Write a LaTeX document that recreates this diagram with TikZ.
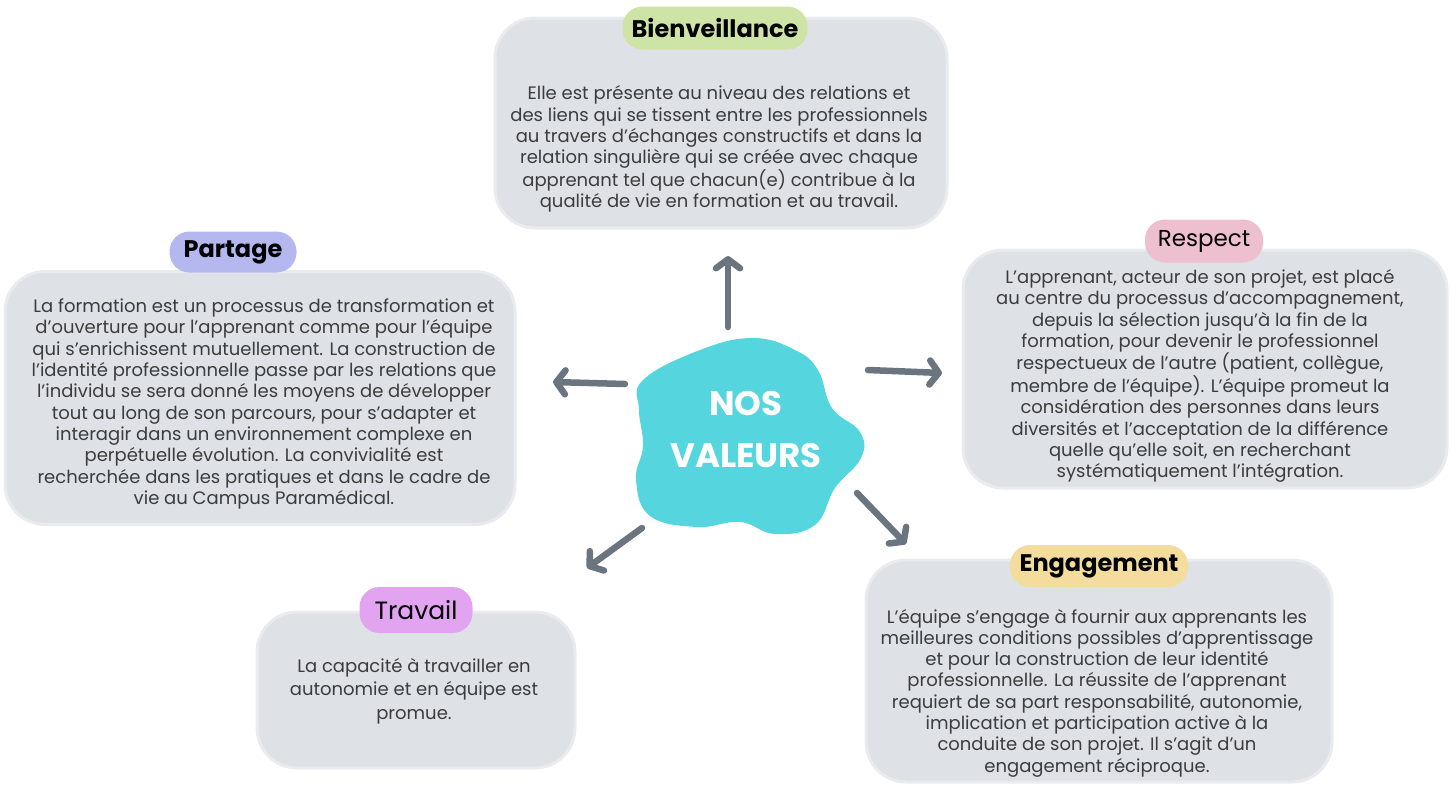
\documentclass[tikz,border=0pt]{standalone}
\usepackage{fontspec}
\setmainfont{Poppins}
\usetikzlibrary{arrows.meta}
\definecolor{boxfill}{HTML}{DEE1E6}
\definecolor{boxhalo}{HTML}{E9EBEF}
\definecolor{txt}{HTML}{3C3C3C}
\definecolor{pgreen}{HTML}{CDE4A6}
\definecolor{plav}{HTML}{B5B7EF}
\definecolor{ppink}{HTML}{EEBFCF}
\definecolor{pviolet}{HTML}{E2A4F1}
\definecolor{pyellow}{HTML}{F4DC9C}
\definecolor{blob}{HTML}{55D6DF}
\definecolor{arrowc}{HTML}{6B7580}
\tikzset{
  valbox/.style={fill=boxfill, draw=boxhalo, line width=3pt, rounded corners=40pt, inner sep=0pt},
  pill/.style={rounded corners=20pt, inner sep=0pt, font=\fontsize{24}{26}\selectfont\bfseries, text=black},
  body/.style={align=center, text=txt, inner sep=0pt, font=\fontsize{18}{21.3}\selectfont},
  arr/.style={draw=arrowc, line width=6.5pt, line cap=round, -{Straight Barb[length=9pt,width=24pt,round]}}
}
\begin{document}
\begin{tikzpicture}[x=1pt,y=-1pt]
\useasboundingbox (0,0) rectangle (1452,785);
% boxes
\node[valbox, minimum width=452pt, minimum height=210pt] (bbox) at (721,123) {};
\node[valbox, minimum width=510pt, minimum height=253pt] (pbox) at (260,398) {};
\node[valbox, minimum width=484pt, minimum height=238pt] (rbox) at (1205,369) {};
\node[valbox, minimum width=318pt, minimum height=156pt] (tbox) at (416,690) {};
\node[valbox, minimum width=466pt, minimum height=222pt] (ebox) at (1099,671) {};
% pills
\node[pill, fill=pgreen, minimum width=185pt, minimum height=43pt] (bpill) at (715,28) {Bienveillance};
\node[pill, fill=plav, minimum width=127pt, minimum height=41pt] (ppill) at (233,252) {Partage};
\node[pill, fill=ppink, minimum width=118pt, minimum height=43pt, font=\fontsize{23}{26}\selectfont] (rpill) at (1204,241) {Respect};
\node[pill, fill=pviolet, minimum width=113pt, minimum height=46pt, font=\fontsize{25}{27}\selectfont] (tpill) at (416,610) {Travail};
\node[pill, fill=pyellow, minimum width=178pt, minimum height=42pt] (epill) at (1099,566) {Engagement};
% texts
\node[body] (btxt) at (719,149) {Elle est présente au niveau des relations et\\des liens qui se tissent entre les professionnels\\au travers d’échanges constructifs et dans la\\relation singulière qui se créée avec chaque\\apprenant tel que chacun(e) contribue à la\\qualité de vie en formation et au travail.};
\node[body] (ptxt) at (264,404) {La formation est un processus de transformation et\\d’ouverture pour l’apprenant comme pour l’équipe\\qui s’enrichissent mutuellement. La construction de\\l’identité professionnelle passe par les relations que\\l’individu se sera donné les moyens de développer\\tout au long de son parcours, pour s’adapter et\\interagir dans un environnement complexe en\\perpétuelle évolution. La convivialité est\\recherchée dans les pratiques et dans le cadre de\\vie au Campus Paramédical.};
\node[body] (rtxt) at (1200,376) {L’apprenant, acteur de son projet, est placé\\au centre du processus d’accompagnement,\\depuis la sélection jusqu’à la fin de la\\formation, pour devenir le professionnel\\respectueux de l’autre (patient, collègue,\\membre de l’équipe). L’équipe promeut la\\considération des personnes dans leurs\\diversités et l’acceptation de la différence\\quelle qu’elle soit, en recherchant\\systématiquement l’intégration.};
\node[body, font=\fontsize{18}{23.5}\selectfont] (ttxt) at (414,691) {La capacité à travailler en\\autonomie et en équipe est\\promue.};
\node[body] (etxt) at (1097,693) {L’équipe s’engage à fournir aux apprenants les\\meilleures conditions possibles d’apprentissage\\et pour la construction de leur identité\\professionnelle. La réussite de l’apprenant\\requiert de sa part responsabilité, autonomie,\\implication et participation active à la\\conduite de son projet. Il s’agit d’un\\engagement réciproque.};
% central blob
\fill[blob] plot[smooth cycle, tension=0.7] coordinates {(643,380) (700,350) (753,338) (795,350) (818,370) (832,408) (860,432) (861,458) (835,488) (815,525) (775,534) (740,522) (697,527) (650,516) (636,480) (643,446) (639,410)};
\node[text=white, align=center, inner sep=0pt, font=\fontsize{34}{52}\selectfont\bfseries] (c) at (746,430) {NOS\\VALEURS};
% arrows
\coordinate (aus) at (728,327); \coordinate (aue) at (728,256);
\coordinate (als) at (625,384); \coordinate (ale) at (553,382);
\coordinate (ars) at (868,370); \coordinate (are) at (942,373);
\coordinate (adls) at (642,528); \coordinate (adle) at (587,568);
\coordinate (adrs) at (857,493); \coordinate (adre) at (906,544);
\draw[arr] (aus) -- (aue);
\draw[arr] (als) -- (ale);
\draw[arr] (ars) -- (are);
\draw[arr] (adls) -- (adle);
\draw[arr] (adrs) -- (adre);
\end{tikzpicture}
\end{document}
